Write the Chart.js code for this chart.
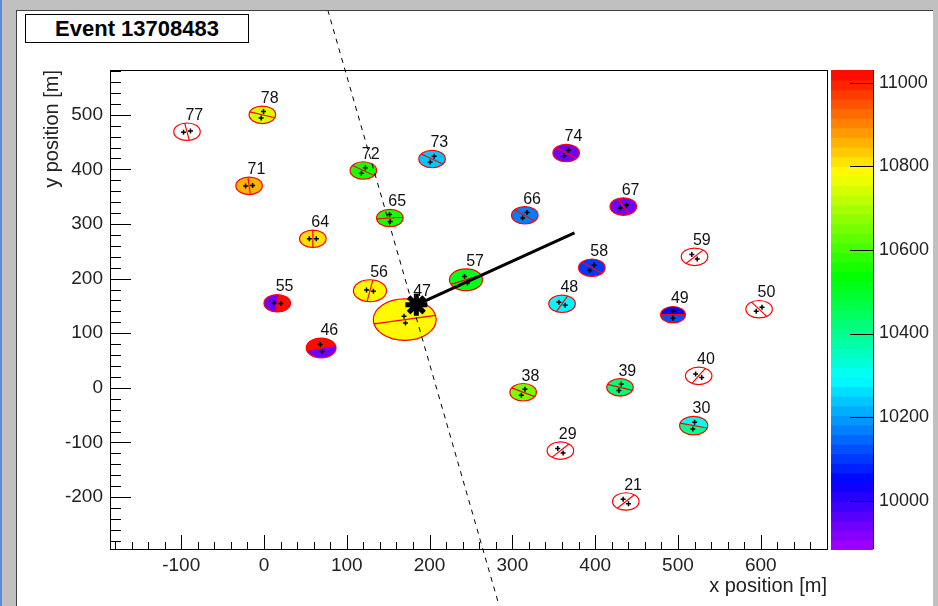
<!DOCTYPE html>
<html>
<head>
<meta charset="utf-8">
<script src="https://cdn.jsdelivr.net/npm/chart.js@4"></script>
<style>
  html, body { margin: 0; padding: 0; }
  body { width: 938px; height: 606px; background: #c0c0c0; position: relative; overflow: hidden; }
  #edge { position: absolute; left: 0; top: 0; width: 2px; height: 606px; background: #5b8bd6; }
  #pad { position: absolute; left: 16px; top: 10px; width: 916px; height: 596px; background: #fff;
         border-left: 1px solid #404040; border-top: 1px solid #404040; }
  #title { position: absolute; left: 25px; top: 14px; width: 222px; height: 27px; border: 1px solid #000;
           background: #fff; font: bold 22px "Liberation Sans", Arial, sans-serif; line-height: 27px;
           text-align: center; color: #000; }
  canvas { position: absolute; left: 0; top: 0; }
</style>
</head>
<body>
<div id="edge"></div>
<div id="pad"><canvas id="event" width="916" height="595"></canvas></div>
<div id="title">Event 13708483</div>
<script>
// station data (x, y in metres, radius in metres, start times of both halves)
const stationId = [21, 29, 30, 38, 39, 40, 46, 47, 48, 49, 50, 55, 56, 57, 58, 59, 64, 65, 66, 67, 71, 72, 73, 74, 77, 78]
const stationX  = [437, 358, 519, 313, 430, 525, 69, 170, 360, 494, 598, 16, 128, 244, 396, 520, 59, 152, 315, 434, -18, 120, 203, 365, -93, -2]
const stationY  = [-208, -115, -69, -8, 1, 22, 73, 125, 154, 134, 144, 155, 178, 198, 220, 240, 273, 311, 316, 332, 370, 398, 419, 430, 469, 500]
const stationR  = [16, 16, 17, 16, 16, 16, 18, 38, 16, 15, 16, 16, 20, 20, 16, 16, 16, 16, 16, 16, 16, 16, 16, 16, 16, 16]
const timeA     = [null, null, 10400, 10650, 10420, null, 9930, 10780, 10280, 10125, null, 9930, 10795, 10520, 10110, null, 10815, 10555, 10165, 9945, 10865, 10560, 10250, 9945, null, 10750]
const timeB     = [null, null, 10300, 10650, 10420, null, 11010, 10780, 10280, 10048, null, 11010, 10795, 10520, 10110, null, 10815, 10555, 10165, 9945, 10865, 10560, 10250, 9945, null, 10750]
const splitAngle = [130, 130, 15, 30, 20, 120, -15, -12, 115, 0, 55, 95, 100, -25, 40, 130, 90, -5, 40, 65, 85, 35, 35, 40, 80, 20]

// shower core, axis projection and shower-detector plane
const coreX = [184]
const coreY = [152]
const axisX = [184, 375]
const axisY = [152, 284]
const planeX = [77, 284]
const planeY = [692, -399]

// axes
const xRange = [-186, 680]
const yRange = [-295, 582]
const zRange = [9884, 11031]
const xTicks = []
for (let v = -180; v <= 660; v += 20) xTicks.push(v)
const yTicks = []
for (let v = -280; v <= 580; v += 20) yTicks.push(v)
const zTicks = [10000, 10200, 10400, 10600, 10800, 11000]

const nColors = 50
function timeColor(t) {
  let k = Math.floor((t - zRange[0]) / (zRange[1] - zRange[0]) * nColors)
  k = Math.max(0, Math.min(nColors - 1, k))
  const hue = 280 * (1 - (k + 0.5) / nColors)
  return 'hsl(' + hue + ',100%,50%)'
}

const font = '"Liberation Sans", Arial, sans-serif'

const eventPlugin = {
  id: 'eventPlugin',
  beforeDatasetsDraw(chart) {
    const ctx = chart.ctx
    const xs = chart.scales.x, ys = chart.scales.y, zs = chart.scales.z
    const a = chart.chartArea

    // color bar
    const barL = a.right + 4, barW = 42
    for (let k = 0; k < nColors; k++) {
      const v0 = zRange[0] + k * (zRange[1] - zRange[0]) / nColors
      const v1 = zRange[0] + (k + 1) * (zRange[1] - zRange[0]) / nColors
      const y0 = zs.getPixelForValue(v0), y1 = zs.getPixelForValue(v1)
      ctx.fillStyle = timeColor(v0 + 1)
      ctx.fillRect(barL, y1, barW, y0 - y1 + 1)
    }
    ctx.strokeStyle = '#000'
    ctx.lineWidth = 1
    ctx.beginPath()
    ctx.moveTo(barL + barW + 0.5, a.top)
    ctx.lineTo(barL + barW + 0.5, a.bottom)
    zs.ticks.forEach(t => {
      const y = Math.round(zs.getPixelForValue(t.value)) + 0.5
      ctx.moveTo(barL + barW - 23, y)
      ctx.lineTo(barL + barW, y)
    })
    ctx.stroke()

    // frame and tick marks
    ctx.strokeRect(a.left + 0.5, a.top + 0.5, a.right - a.left, a.bottom - a.top)
    ctx.beginPath()
    xs.ticks.forEach(t => {
      const x = Math.round(xs.getPixelForValue(t.value)) + 0.5
      const len = t.value % 100 === 0 ? 14 : 7
      ctx.moveTo(x, a.bottom)
      ctx.lineTo(x, a.bottom - len)
    })
    ys.ticks.forEach(t => {
      const y = Math.round(ys.getPixelForValue(t.value)) + 0.5
      const len = t.value % 100 === 0 ? 21 : 11
      ctx.moveTo(a.left, y)
      ctx.lineTo(a.left + len, y)
    })
    ctx.stroke()

    // stations
    ctx.save()
    ctx.beginPath()
    ctx.rect(a.left, a.top, a.right - a.left, a.bottom - a.top)
    ctx.clip()
    for (let i = 0; i < stationId.length; i++) {
      const cx = xs.getPixelForValue(stationX[i])
      const cy = ys.getPixelForValue(stationY[i])
      const rx = Math.abs(xs.getPixelForValue(stationX[i] + stationR[i]) - cx)
      const ry = Math.abs(ys.getPixelForValue(stationY[i] + stationR[i]) - cy)
      const th = splitAngle[i] * Math.PI / 180
      const fills = [timeA[i], timeB[i]]
      for (let h = 0; h < 2; h++) {
        ctx.beginPath()
        ctx.moveTo(cx, cy)
        ctx.ellipse(cx, cy, rx, ry, 0, th + h * Math.PI, th + (h + 1) * Math.PI)
        ctx.closePath()
        ctx.fillStyle = fills[h] === null ? '#fff' : timeColor(fills[h])
        ctx.fill()
      }
      ctx.strokeStyle = '#ff0000'
      ctx.lineWidth = 1.2
      ctx.beginPath()
      ctx.ellipse(cx, cy, rx, ry, 0, 0, 2 * Math.PI)
      ctx.moveTo(cx + rx * Math.cos(th), cy + ry * Math.sin(th))
      ctx.lineTo(cx - rx * Math.cos(th), cy - ry * Math.sin(th))
      ctx.stroke()

      // pmt crosses
      ctx.strokeStyle = '#000'
      ctx.lineWidth = 1.5
      ctx.beginPath()
      for (const s of [-1, 1]) {
        const px = cx - s * 3.5 * Math.sin(th), py = cy + s * 3.5 * Math.cos(th)
        ctx.moveTo(px - 2.5, py); ctx.lineTo(px + 2.5, py)
        ctx.moveTo(px, py - 2.5); ctx.lineTo(px, py + 2.5)
      }
      ctx.stroke()

      ctx.fillStyle = '#111'
      ctx.font = '16px ' + font
      ctx.textAlign = 'center'
      ctx.textBaseline = 'alphabetic'
      ctx.fillText(String(stationId[i]), cx + 0.55 * rx, cy - ry - 3)
    }
    ctx.restore()
  }
}

const config = {
  type: 'scatter',
  data: {
    datasets: [
      {
        data: coreX.map((x, i) => ({ x: x, y: coreY[i] })),
        pointStyle: 'star',
        pointRadius: 11,
        borderWidth: 5,
        borderColor: '#000',
        backgroundColor: '#000',
      },
      {
        data: axisX.map((x, i) => ({ x: x, y: axisY[i] })),
        showLine: true,
        pointRadius: 0,
        borderWidth: 3,
        borderColor: '#000',
      },
      {
        data: planeX.map((x, i) => ({ x: x, y: planeY[i] })),
        showLine: true,
        pointRadius: 0,
        borderWidth: 1,
        borderDash: [5, 5],
        borderColor: '#000',
        clip: false,
      },
    ],
  },
  options: {
    responsive: false,
    animation: false,
    devicePixelRatio: 1,
    layout: { padding: { top: 59, left: 0, right: 0, bottom: 0 } },
    plugins: { legend: { display: false }, tooltip: { enabled: false } },
    scales: {
      x: {
        type: 'linear', min: xRange[0], max: xRange[1],
        afterBuildTicks: s => { s.ticks = xTicks.map(v => ({ value: v })) },
        afterFit: s => { s.height = 57 },
        grid: { display: false, drawTicks: false },
        border: { display: false },
        ticks: {
          autoSkip: false, maxRotation: 0, padding: 5, color: '#222',
          font: { family: font, size: 19 },
          callback: v => (v % 100 === 0 ? String(v) : ''),
        },
        title: {
          display: true, text: 'x position [m]', align: 'end', color: '#222',
          font: { family: font, size: 20 }, padding: { top: 0, bottom: 8 },
        },
      },
      y: {
        type: 'linear', min: yRange[0], max: yRange[1],
        afterBuildTicks: s => { s.ticks = yTicks.map(v => ({ value: v })) },
        afterFit: s => { s.width = 93 },
        grid: { display: false, drawTicks: false },
        border: { display: false },
        ticks: {
          autoSkip: false, padding: 7, color: '#222',
          font: { family: font, size: 19 },
          callback: v => (v % 100 === 0 ? String(v) : ''),
        },
        title: {
          display: true, text: 'y position [m]', align: 'end', color: '#222',
          font: { family: font, size: 20 }, padding: { top: 23, bottom: 0 },
        },
      },
      z: {
        type: 'linear', position: 'right', min: zRange[0], max: zRange[1],
        afterBuildTicks: s => { s.ticks = zTicks.map(v => ({ value: v })) },
        afterFit: s => { s.width = 106 },
        grid: { drawOnChartArea: false, color: 'rgba(0,0,0,0)', tickLength: 46 },
        border: { display: false },
        ticks: {
          padding: 6, color: '#222', font: { family: font, size: 18 },
          callback: v => String(v),
        },
      },
    },
  },
  plugins: [eventPlugin],
}

const eventCtx = document.getElementById('event')
window.myEvent = new Chart(eventCtx, config)
</script>
</body>
</html>
